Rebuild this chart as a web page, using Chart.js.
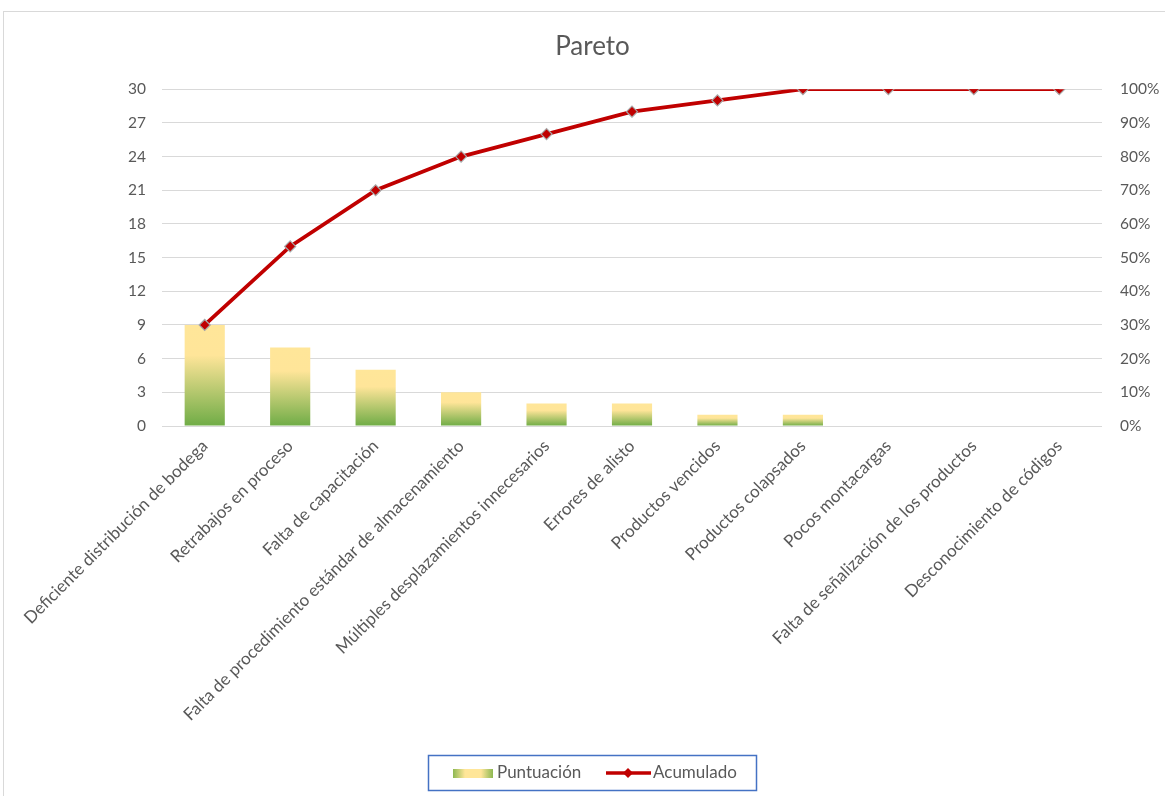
<!DOCTYPE html>
<html>
<head>
<meta charset="utf-8">
<script src="https://cdn.jsdelivr.net/npm/chart.js@4.4.1/dist/chart.umd.min.js"></script>
<style>
  html, body { margin: 0; padding: 0; background: #fff; }
  #wrap { width: 1165px; height: 796px; }
</style>
</head>
<body>
<div id="wrap"><canvas id="pareto"></canvas></div>
<script>
const categorias = [
  "Deficiente distribución de bodega",
  "Retrabajos en proceso",
  "Falta de capacitación",
  "Falta de procedimiento estándar de almacenamiento",
  "Múltiples desplazamientos innecesarios",
  "Errores de alisto",
  "Productos vencidos",
  "Productos colapsados",
  "Pocos montacargas",
  "Falta de señalización de los productos",
  "Desconocimiento de códigos"
];
const puntuacion = [9, 7, 5, 3, 2, 2, 1, 1, 0, 0, 0];
const acumulado = [30, 53.33, 70, 80, 86.67, 93.33, 96.67, 100, 100, 100, 100];

const FONT = "Lato, 'Open Sans', sans-serif";
const GRIS = "#595959";

// degradado amarillo -> verde por barra
function colorBarra(ctx) {
  const chart = ctx.chart;
  if (!chart.chartArea) return "#FFE699";
  const y = chart.scales.y;
  const top = y.getPixelForValue(ctx.raw);
  const bottom = y.getPixelForValue(0);
  if (bottom - top < 1) return "#FFE699";
  const g = chart.ctx.createLinearGradient(0, top, 0, bottom);
  g.addColorStop(0, "#FFE699");
  g.addColorStop(0.3, "#FFE599");
  g.addColorStop(1, "#6FAC46");
  return g;
}

const marco = {
  id: "marco",
  beforeDraw(chart) {
    const c = chart.ctx;
    c.save();
    c.strokeStyle = "#D9D9D9";
    c.lineWidth = 1;
    c.strokeRect(3.5, 11.5, 1300, 900);
    c.restore();
  }
};

const leyenda = {
  id: "leyenda",
  afterDraw(chart) {
    const c = chart.ctx;
    c.save();
    c.strokeStyle = "#4472C4";
    c.lineWidth = 1.5;
    c.strokeRect(428.5, 755.5, 328, 35);

    const g = c.createLinearGradient(453, 0, 493, 0);
    g.addColorStop(0, "#8DB852");
    g.addColorStop(0.3, "#FFE699");
    g.addColorStop(0.7, "#FFE699");
    g.addColorStop(1, "#8DB852");
    c.fillStyle = g;
    c.fillRect(453, 769, 40, 9);

    c.font = "17px " + FONT;
    c.fillStyle = GRIS;
    c.textBaseline = "middle";
    c.fillText("Puntuación", 497, 773);

    c.strokeStyle = "#C00000";
    c.lineWidth = 3.5;
    c.beginPath();
    c.moveTo(606, 773);
    c.lineTo(651, 773);
    c.stroke();
    c.fillStyle = "#C00000";
    c.beginPath();
    c.moveTo(628, 768); c.lineTo(633, 773); c.lineTo(628, 778); c.lineTo(623, 773);
    c.closePath();
    c.fill();

    c.fillStyle = GRIS;
    c.fillText("Acumulado", 653, 773);
    c.restore();
  }
};

new Chart(document.getElementById("pareto"), {
  data: {
    labels: categorias,
    datasets: [
      {
        type: "line",
        label: "Acumulado",
        data: acumulado,
        yAxisID: "y1",
        borderColor: "#C00000",
        borderWidth: 3.8,
        pointStyle: "rectRot",
        pointRadius: 5.5,
        pointBackgroundColor: "#C00000",
        pointBorderColor: "#A8A8A8",
        pointBorderWidth: 1.2,
        tension: 0,
        order: 1
      },
      {
        type: "bar",
        label: "Puntuación",
        data: puntuacion,
        yAxisID: "y",
        backgroundColor: colorBarra,
        barPercentage: 0.94,
        categoryPercentage: 0.5,
        order: 2
      }
    ]
  },
  options: {
    responsive: true,
    maintainAspectRatio: false,
    animation: false,
    layout: { padding: { left: 20, right: 0, top: 0, bottom: 60 } },
    plugins: {
      legend: { display: false },
      tooltip: { enabled: false },
      title: {
        display: true,
        text: "Pareto",
        color: GRIS,
        font: { family: FONT, size: 26, weight: "normal" },
        padding: { top: 31, bottom: 27 }
      }
    },
    scales: {
      x: {
        grid: { display: false },
        border: { display: false },
        ticks: {
          color: GRIS,
          font: { family: FONT, size: 17 },
          minRotation: 45,
          maxRotation: 45,
          autoSkip: false,
          padding: 2
        },
        afterFit(s) { s.height = 310; }
      },
      y: {
        position: "left",
        min: 0,
        max: 30,
        ticks: {
          stepSize: 3,
          color: GRIS,
          font: { family: FONT, size: 15.5 },
          padding: 16
        },
        grid: { color: "#D9D9D9", lineWidth: 1, drawTicks: false },
        border: { display: false },
        afterFit(s) { s.width = 142; }
      },
      y1: {
        position: "right",
        min: 0,
        max: 100,
        ticks: {
          stepSize: 10,
          color: GRIS,
          font: { family: FONT, size: 15.5 },
          padding: 18,
          callback: v => v + "%"
        },
        grid: { display: false, drawTicks: false },
        border: { display: false },
        afterFit(s) { s.width = 63; }
      }
    }
  },
  plugins: [marco, leyenda]
});
</script>
</body>
</html>
